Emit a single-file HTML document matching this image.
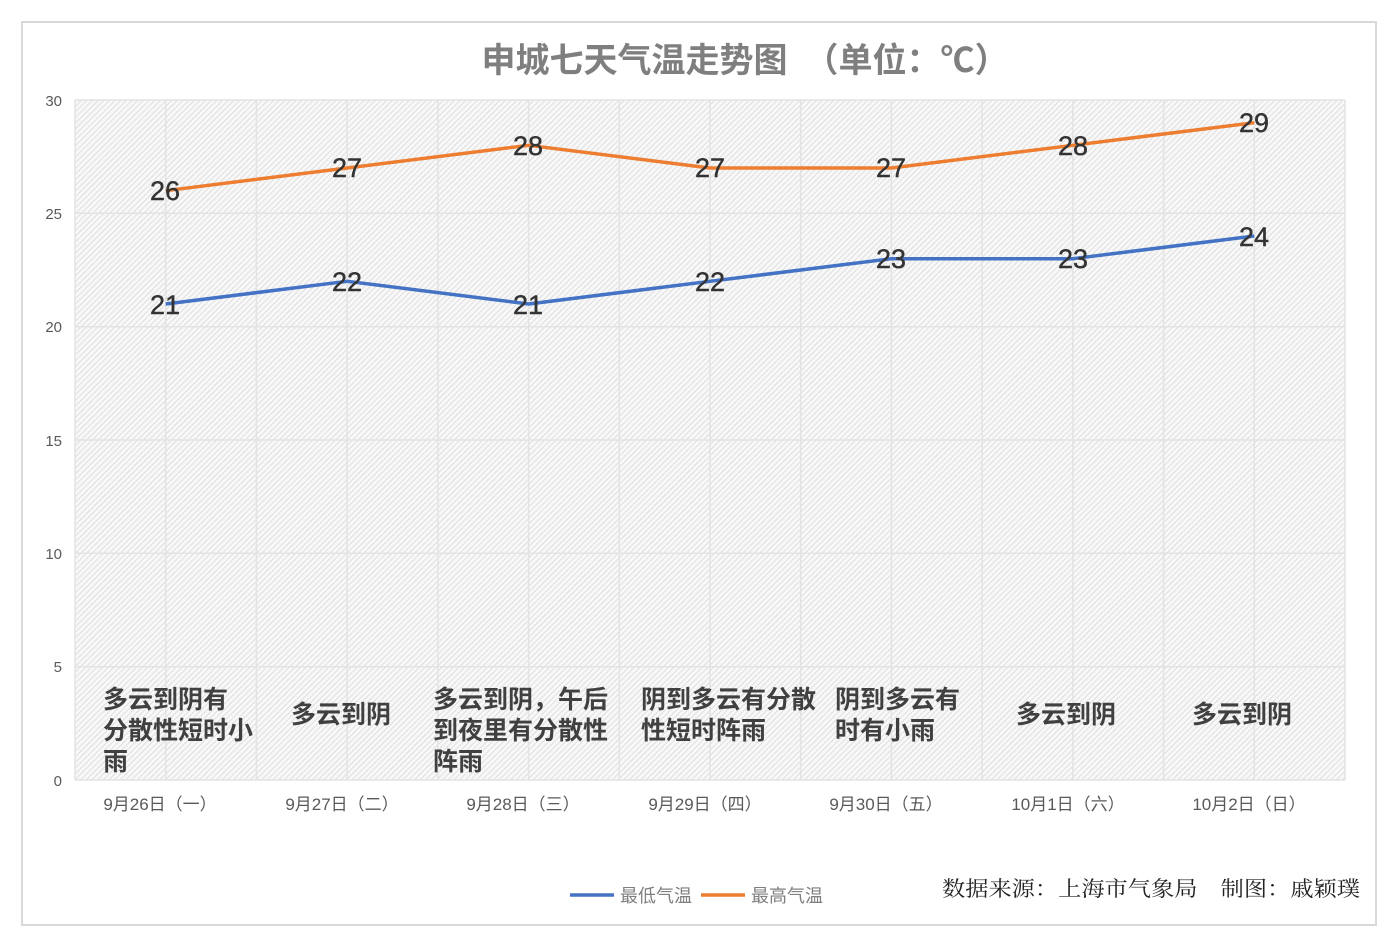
<!DOCTYPE html>
<html><head><meta charset="utf-8"><style>
html,body{margin:0;padding:0;background:#fff;}
svg{display:block;font-family:"Liberation Sans","Noto Sans CJK SC",sans-serif;}
.cr{font-family:"Noto Serif CJK SC","Liberation Serif",serif;}
</style></head><body>
<svg width="1394" height="938" viewBox="0 0 1394 938" xmlns="http://www.w3.org/2000/svg">
<defs>
<pattern id="h" width="4" height="4" patternUnits="userSpaceOnUse" patternTransform="rotate(45)">
<rect width="4" height="4" fill="#f8f8f8"/>
<line x1="0" y1="0" x2="0" y2="4" stroke="#d4d4d4" stroke-width="1.4"/>
</pattern>
</defs>
<rect x="22" y="22" width="1354" height="903" fill="#fff" stroke="#d9d9d9" stroke-width="2"/>
<text x="745" y="72" text-anchor="middle" font-size="34" font-weight="bold" fill="#7f7f7f">申城七天气温走势图　（单位：℃）</text>
<rect x="75" y="100" width="1270" height="680" fill="url(#h)"/>
<g stroke="#e3e3e3" stroke-width="1.5">
<line x1="75" y1="100" x2="1345" y2="100"/>
<line x1="75" y1="213.3" x2="1345" y2="213.3"/>
<line x1="75" y1="326.7" x2="1345" y2="326.7"/>
<line x1="75" y1="440" x2="1345" y2="440"/>
<line x1="75" y1="553.3" x2="1345" y2="553.3"/>
<line x1="75" y1="666.7" x2="1345" y2="666.7"/>
<line x1="75" y1="780" x2="1345" y2="780"/>
<line x1="75" y1="100" x2="75" y2="780"/><line x1="165.7" y1="100" x2="165.7" y2="780"/>
<line x1="256.4" y1="100" x2="256.4" y2="780"/><line x1="347.1" y1="100" x2="347.1" y2="780"/>
<line x1="437.9" y1="100" x2="437.9" y2="780"/><line x1="528.6" y1="100" x2="528.6" y2="780"/>
<line x1="619.3" y1="100" x2="619.3" y2="780"/><line x1="710" y1="100" x2="710" y2="780"/>
<line x1="800.7" y1="100" x2="800.7" y2="780"/><line x1="891.4" y1="100" x2="891.4" y2="780"/>
<line x1="982.1" y1="100" x2="982.1" y2="780"/><line x1="1072.9" y1="100" x2="1072.9" y2="780"/>
<line x1="1163.6" y1="100" x2="1163.6" y2="780"/><line x1="1254.3" y1="100" x2="1254.3" y2="780"/>
<line x1="1345" y1="100" x2="1345" y2="780"/>
</g>
<g font-size="15" fill="#595959" text-anchor="end">
<text x="62" y="106">30</text><text x="62" y="219">25</text><text x="62" y="332">20</text>
<text x="62" y="446">15</text><text x="62" y="559">10</text><text x="62" y="672">5</text><text x="62" y="786">0</text>
</g>
<g font-size="17" fill="#595959" text-anchor="middle">
<text x="160" y="810">9月26日（一）</text><text x="342" y="810">9月27日（二）</text>
<text x="523" y="810">9月28日（三）</text><text x="705" y="810">9月29日（四）</text>
<text x="886" y="810">9月30日（五）</text><text x="1068" y="810">10月1日（六）</text>
<text x="1249" y="810">10月2日（日）</text>
</g>
<polyline fill="none" stroke="#4472c4" stroke-width="3.5" stroke-linejoin="round" points="165.7,304 347.1,281.3 528.6,304 710,281.3 891.4,258.7 1072.9,258.7 1254.3,236"/>
<polyline fill="none" stroke="#ed7d31" stroke-width="3.5" stroke-linejoin="round" points="165.7,190.7 347.1,168 528.6,145.3 710,168 891.4,168 1072.9,145.3 1254.3,122.7"/>
<g font-size="27" fill="#333" text-anchor="middle" stroke="#333" stroke-width="0.4">
<text x="165" y="314">21</text><text x="347" y="291">22</text><text x="528" y="314">21</text>
<text x="710" y="291">22</text><text x="891" y="268">23</text><text x="1073" y="268">23</text><text x="1254" y="246">24</text>
<text x="165" y="200">26</text><text x="347" y="177">27</text><text x="528" y="155">28</text>
<text x="710" y="177">27</text><text x="891" y="177">27</text><text x="1073" y="155">28</text><text x="1254" y="132">29</text>
</g>
<g font-size="25" font-weight="bold" fill="#404040">
<text x="103" y="708">多云到阴有</text><text x="103" y="739">分散性短时小</text><text x="103" y="770">雨</text>
<text x="291" y="723">多云到阴</text>
<text x="433" y="708">多云到阴，午后</text><text x="433" y="739">到夜里有分散性</text><text x="433" y="770">阵雨</text>
<text x="641" y="708">阴到多云有分散</text><text x="641" y="739">性短时阵雨</text>
<text x="835" y="708">阴到多云有</text><text x="835" y="739">时有小雨</text>
<text x="1016" y="723">多云到阴</text>
<text x="1192" y="723">多云到阴</text>
</g>
<line x1="570" y1="895" x2="614" y2="895" stroke="#4472c4" stroke-width="3.5"/>
<text x="620" y="902" font-size="18" fill="#7f7f7f">最低气温</text>
<line x1="701" y1="895" x2="745" y2="895" stroke="#ed7d31" stroke-width="3.5"/>
<text x="751" y="902" font-size="18" fill="#7f7f7f">最高气温</text>
<text x="942" y="896" font-size="21" fill="#222" class="cr" textLength="418" lengthAdjust="spacingAndGlyphs" style="font-family:'Noto Serif CJK SC','Liberation Serif',serif">数据来源：上海市气象局　制图：戚颖璞</text>
</svg>
</body></html>
